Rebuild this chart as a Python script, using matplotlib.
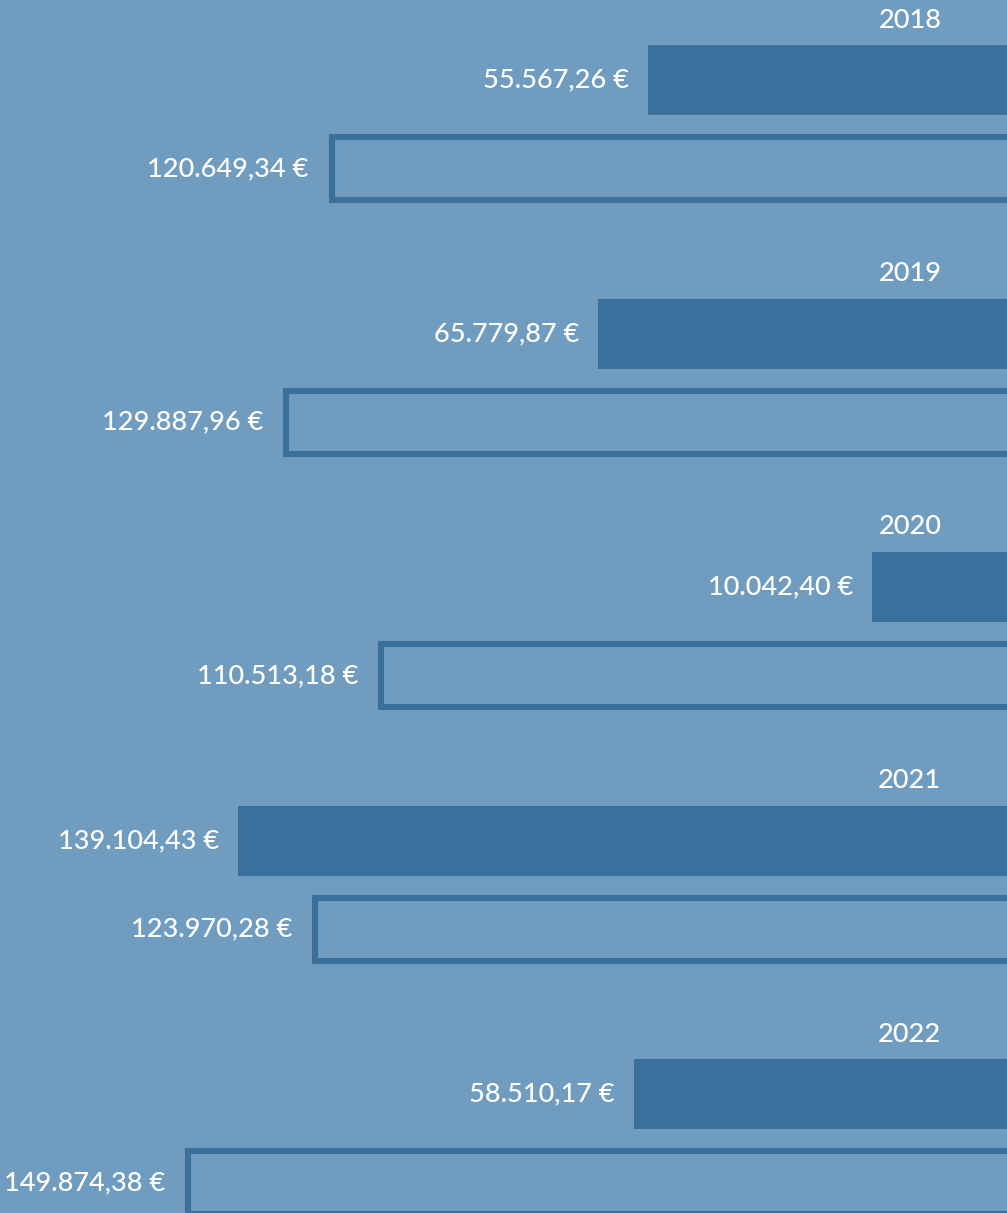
import matplotlib.pyplot as plt

years = ['2018', '2019', '2020', '2021', '2022']
filled_vals = [55567.26, 65779.87, 10042.40, 139104.43, 58510.17]
outline_vals = [120649.34, 129887.96, 110513.18, 123970.28, 149874.38]

bg = '#709cbf'
dark = '#3a709c'

def fmt(v):
    s = f'{v:,.2f}'.replace(',', 'X').replace('.', ',').replace('X', '.')
    return s + ' €'

plt.rcParams['font.family'] = ['Lato', 'DejaVu Sans']

fig = plt.figure(figsize=(10.07, 12.13), dpi=100, facecolor=bg)
ax = fig.add_axes([0, 0, 1, 1])
ax.set_facecolor(bg)
# value axis runs right-to-left; zero sits near the right edge
scale = 0.004913  # px per euro
zero_px = 921.3
ax.set_xlim(zero_px / scale, (zero_px - 1007) / scale)
ax.set_ylim(1213, 0)
ax.axis('off')

pad = 40000  # bars run on past the right edge
step = 253.5
fs = 19.5
for i, yr in enumerate(years):
    y_year = 20 + step * i
    y_fill = 80 + step * i
    y_out = 168.5 + step * i
    ax.barh(y_fill, filled_vals[i] + pad, height=70, left=-pad, color=dark)
    ax.barh(y_out, outline_vals[i] + pad - 3 / scale, height=63, left=-pad,
            color=bg, edgecolor=dark, linewidth=4.4)
    ax.text(-20 / scale, y_year, yr, ha='right', va='center',
            color='white', fontsize=fs, fontweight='medium')
    ax.text(filled_vals[i] + 19 / scale, y_fill, fmt(filled_vals[i]),
            ha='right', va='center', color='white', fontsize=fs, fontweight='medium')
    ax.text(outline_vals[i] + 20 / scale, y_out, fmt(outline_vals[i]),
            ha='right', va='center', color='white', fontsize=fs, fontweight='medium')

fig.savefig('out.png', dpi=100, facecolor=bg)
